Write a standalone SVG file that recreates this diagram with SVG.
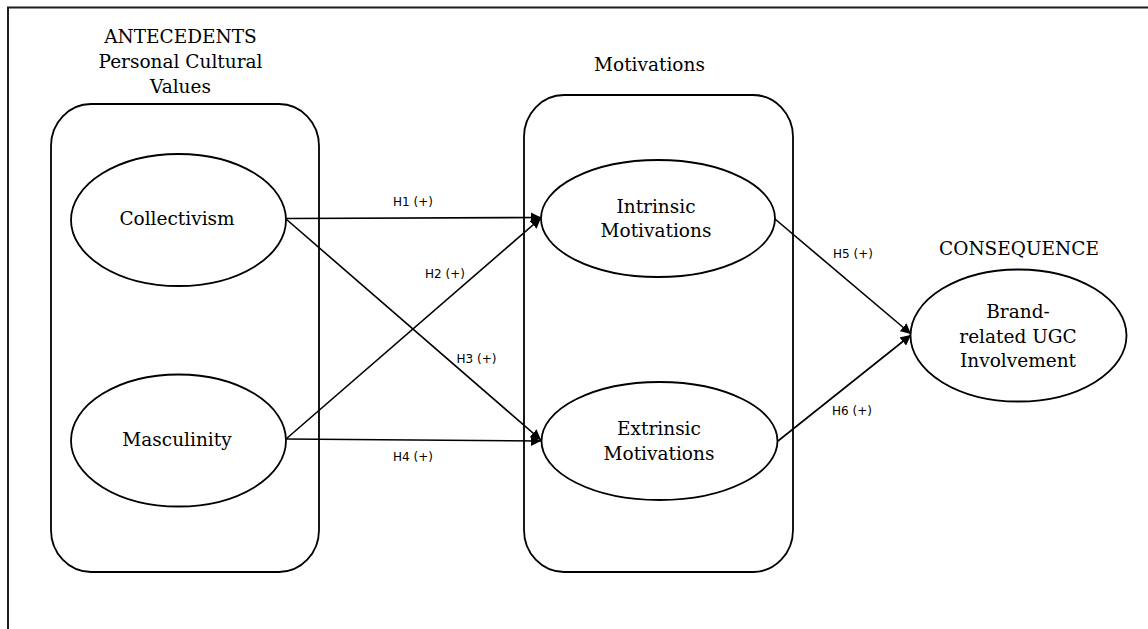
<svg xmlns="http://www.w3.org/2000/svg" width="1148" height="629" viewBox="0 0 1148 629">
  <style>
    .frame { fill: none; stroke: #1e1e1e; stroke-width: 2; }
    .box { fill: none; stroke: #000; stroke-width: 1.8; }
    .node { fill: #fff; stroke: #000; stroke-width: 1.8; }
    .title { font-family: "DejaVu Serif", "Liberation Serif", serif; font-size: 18.5px; fill: #000; text-anchor: middle; }
    .lbl { font-family: "DejaVu Serif", "Liberation Serif", serif; font-size: 18.5px; fill: #000; text-anchor: middle; }
    .hyp { font-family: "DejaVu Sans", "Liberation Sans", sans-serif; font-size: 12px; fill: #000; text-anchor: middle; }
    .edge { fill: none; stroke: #000; stroke-width: 1.6; marker-end: url(#arr); }
  </style>
  <defs>
    <marker id="arr" viewBox="0 0 10 10" refX="10" refY="5" markerWidth="6.5" markerHeight="6.5" orient="auto" markerUnits="strokeWidth">
      <path d="M0,0 L10,5 L0,10 z" fill="#000"/>
    </marker>
  </defs>
  <rect width="1148" height="629" fill="#fff"/>
  <path class="frame" d="M8,629 V7.5 H1148"/>

  <g id="antecedents">
    <text class="title" x="180.5" y="43">ANTECEDENTS</text>
    <text class="title" x="180.5" y="68">Personal Cultural</text>
    <text class="title" x="180.5" y="93">Values</text>
    <rect class="box" x="51" y="104" width="268" height="468" rx="40" ry="42"/>
  </g>
  <g id="motivations">
    <text class="title" x="649.5" y="71">Motivations</text>
    <rect class="box" x="524" y="95" width="269" height="477" rx="40" ry="42"/>
  </g>
  <g id="consequence-title">
    <text class="title" x="1019" y="255">CONSEQUENCE</text>
  </g>

  <g id="connectors">
    <line class="edge" x1="286" y1="218.5" x2="541" y2="217.5"/>
    <line class="edge" x1="286" y1="439" x2="541" y2="218"/>
    <line class="edge" x1="286" y1="219" x2="541" y2="440"/>
    <line class="edge" x1="286" y1="439" x2="541" y2="441"/>
    <line class="edge" x1="775" y1="219" x2="911" y2="334"/>
    <line class="edge" x1="778" y1="441" x2="911" y2="335"/>
    <text class="hyp" x="413" y="206">H1 (+)</text>
    <text class="hyp" x="445" y="278">H2 (+)</text>
    <text class="hyp" x="476.5" y="363">H3 (+)</text>
    <text class="hyp" x="413" y="461">H4 (+)</text>
    <text class="hyp" x="853" y="258">H5 (+)</text>
    <text class="hyp" x="852" y="415">H6 (+)</text>
  </g>

  <g id="collectivism">
    <ellipse class="node" cx="178.5" cy="220" rx="107.5" ry="66"/>
    <text class="lbl" x="177" y="225">Collectivism</text>
  </g>
  <g id="masculinity">
    <ellipse class="node" cx="178.5" cy="440.5" rx="107.5" ry="66"/>
    <text class="lbl" x="177" y="446">Masculinity</text>
  </g>
  <g id="intrinsic">
    <ellipse class="node" cx="658" cy="218.5" rx="117" ry="58.5"/>
    <text class="lbl" x="656" y="213">Intrinsic</text>
    <text class="lbl" x="656" y="237">Motivations</text>
  </g>
  <g id="extrinsic">
    <ellipse class="node" cx="659.5" cy="441" rx="118" ry="59"/>
    <text class="lbl" x="659" y="435">Extrinsic</text>
    <text class="lbl" x="659" y="460">Motivations</text>
  </g>
  <g id="brand-ugc">
    <ellipse class="node" cx="1018.5" cy="335.5" rx="108" ry="66"/>
    <text class="lbl" x="1018" y="318">Brand-</text>
    <text class="lbl" x="1018" y="343">related UGC</text>
    <text class="lbl" x="1018" y="367">Involvement</text>
  </g>
</svg>
